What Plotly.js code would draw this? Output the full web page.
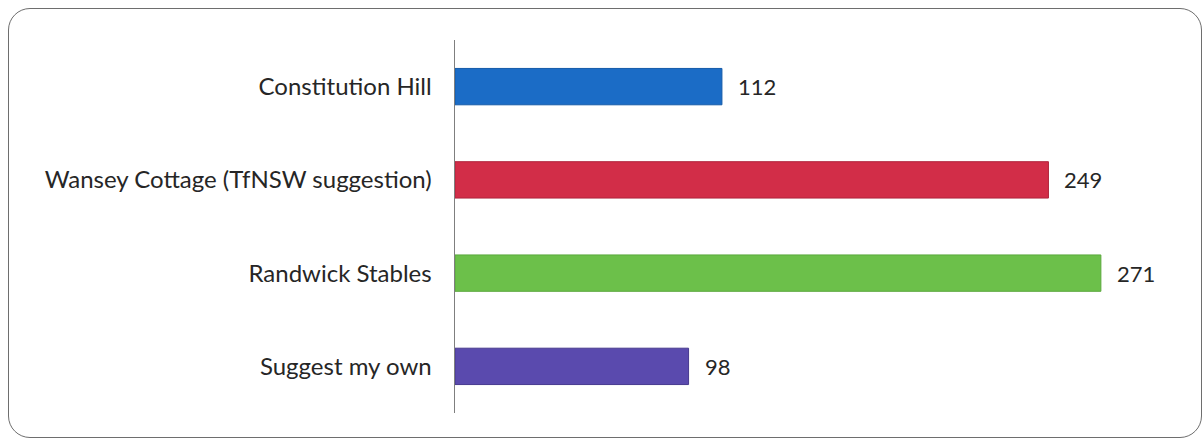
<!DOCTYPE html>
<html>
<head>
<meta charset="utf-8">
<script src="https://cdn.plot.ly/plotly-3.0.1.min.js"></script>
<style>
  html, body { margin: 0; padding: 0; background: #fff; }
  #wrap { position: relative; width: 1203px; height: 441px; overflow: hidden; }
  #frame { position: absolute; left: 8px; top: 8px; width: 1194px; height: 430px;
           border: 1.6px solid #6e6e6e; border-radius: 22px; box-sizing: border-box; pointer-events: none; }
  #chart { position: absolute; left: 0; top: 0; width: 1203px; height: 441px; }
</style>
</head>
<body>
<div id="wrap">
  <div id="chart"></div>
  <div id="frame"></div>
</div>
<script>
const categories = ["Constitution Hill", "Wansey Cottage (TfNSW suggestion)", "Randwick Stables", "Suggest my own"];
const values = [112, 249, 271, 98];
const colors = ["#1b6cc6", "#d22d48", "#6cc04a", "#5a4aae"];
const lineColors = ["#145aa8", "#b0243c", "#5aa83c", "#47398f"];

const trace = {
  type: "bar",
  orientation: "h",
  x: values,
  y: categories,
  marker: { color: colors, line: { color: lineColors, width: 1 } },
  width: 0.39,
  hoverinfo: "skip"
};

const annotations = values.map((v, i) => ({
  x: v, y: categories[i], xref: "x", yref: "y",
  text: String(v), showarrow: false, xanchor: "left", xshift: 14,
  font: { family: "Lato, 'Open Sans', sans-serif", size: 22, color: "#262626" }
}));

const layout = {
  width: 1203, height: 441,
  margin: { l: 455, r: 33, t: 40, b: 28, pad: 0 },
  paper_bgcolor: "rgba(0,0,0,0)",
  plot_bgcolor: "rgba(0,0,0,0)",
  showlegend: false,
  xaxis: { range: [0, 300], showgrid: false, zeroline: false, showticklabels: false, ticks: "", showline: false, fixedrange: true },
  yaxis: {
    autorange: "reversed", showgrid: false, zeroline: false, ticks: "",
    showline: true, linecolor: "#7f7f7f", linewidth: 1.5,
    ticklabelstandoff: 17,
    tickfont: { family: "Lato, 'Open Sans', sans-serif", size: 24, color: "#262626" }
  },
  annotations: annotations
};

Plotly.newPlot("chart", [trace], layout, { displayModeBar: false, staticPlot: true });
</script>
</body>
</html>
